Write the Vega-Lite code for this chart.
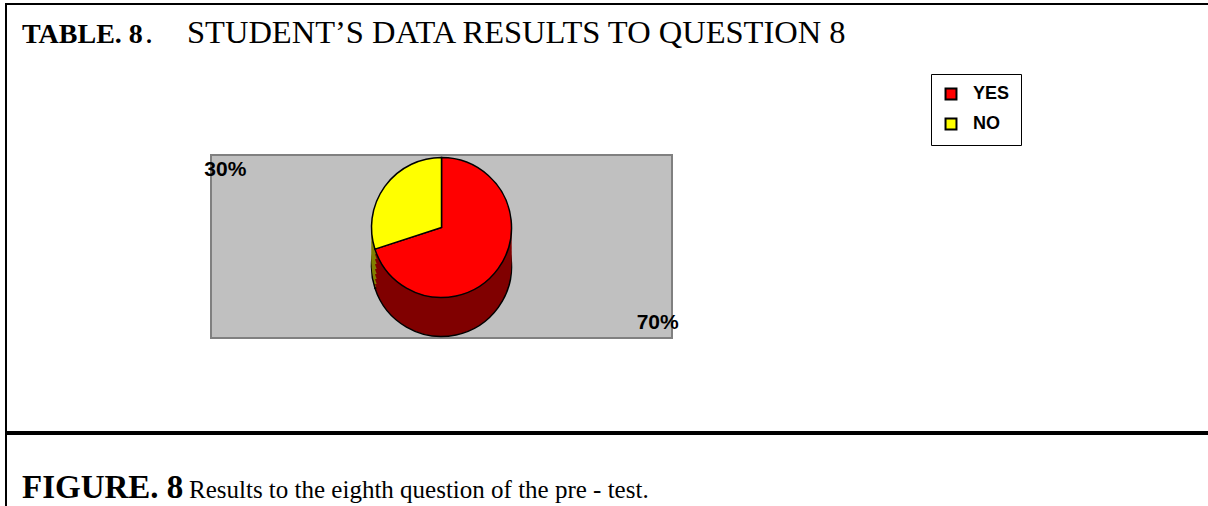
{
  "$schema": "https://vega.github.io/schema/vega-lite/v6.json",
  "background": "white",
  "padding": {"left": 5, "top": 3, "right": 0, "bottom": 0},
  "spacing": 0,
  "bounds": "flush",
  "config": {
    "view": {"stroke": null},
    "title": {"font": "Liberation Serif", "color": "black", "limit": 2000}
  },
  "hconcat": [
    {
      "width": 2, "height": 503,
      "data": {"values": []},
      "mark": "point", "encoding": {},
      "view": {"fill": "black", "stroke": null}
    },
    {
      "spacing": 0,
      "bounds": "flush",
      "vconcat": [
        {
          "spacing": 0,
          "bounds": "flush",
          "hconcat": [
            {
              "width": 138, "height": 2,
              "data": {"values": []},
              "mark": "point", "encoding": {},
              "view": {"fill": "black", "stroke": null},
              "title": {"text": "TABLE. 8", "orient": "bottom", "anchor": "start", "frame": "group", "baseline": "alphabetic", "offset": 38, "dx": 15, "fontWeight": "bold", "fontSize": 28}
            },
            {
              "width": 36, "height": 2,
              "data": {"values": []},
              "mark": "point", "encoding": {},
              "view": {"fill": "black", "stroke": null},
              "title": {"text": ".", "orient": "bottom", "anchor": "start", "frame": "group", "baseline": "alphabetic", "offset": 38, "dx": 0, "fontWeight": "normal", "fontSize": 32}
            },
            {
              "width": 1027, "height": 2,
              "data": {"values": []},
              "mark": "point", "encoding": {},
              "view": {"fill": "black", "stroke": null},
              "title": {"text": "STUDENT’S DATA RESULTS TO QUESTION 8", "orient": "bottom", "anchor": "start", "frame": "group", "baseline": "alphabetic", "offset": 38, "dx": 6, "fontWeight": "normal", "fontSize": 32.5}
            }
          ]
        },
        {
          "width": 1201, "height": 152,
          "data": {"values": []},
          "mark": "point", "encoding": {}
        },
        {
          "spacing": 0,
          "bounds": "flush",
          "hconcat": [
            {
              "width": 204, "height": 183,
              "data": {"values": []},
              "mark": "point", "encoding": {}
            },
            {
              "width": 461, "height": 183,
              "view": {"fill": "#c0c0c0", "stroke": "#808080", "strokeWidth": 2},
              "data": {"values": [
                {"answer": "YES", "percent": 70, "label": "70%", "rank": 1},
                {"answer": "NO", "percent": 30, "label": "30%", "rank": 2}
              ]},
              "encoding": {
                "theta": {"field": "percent", "type": "quantitative", "stack": true},
                "order": {"field": "rank", "type": "quantitative"}
              },
              "layer": [
                {
                  "mark": {"type": "arc", "outerRadius": 70, "yOffset": 20, "stroke": "black", "strokeWidth": 1.5},
                  "encoding": {"fill": {"condition": {"test": "datum.answer === 'YES'", "value": "#800000"}, "value": "#808000"}}
                },
                {
                  "mark": {"type": "arc", "outerRadius": 70, "yOffset": 16},
                  "encoding": {"fill": {"condition": {"test": "datum.answer === 'YES'", "value": "#800000"}, "value": "#808000"}}
                },
                {
                  "mark": {"type": "arc", "outerRadius": 70, "yOffset": 11},
                  "encoding": {"fill": {"condition": {"test": "datum.answer === 'YES'", "value": "#800000"}, "value": "#808000"}}
                },
                {
                  "mark": {"type": "arc", "outerRadius": 70, "yOffset": 6},
                  "encoding": {"fill": {"condition": {"test": "datum.answer === 'YES'", "value": "#800000"}, "value": "#808000"}}
                },
                {
                  "mark": {"type": "arc", "outerRadius": 70, "yOffset": 1},
                  "encoding": {"fill": {"condition": {"test": "datum.answer === 'YES'", "value": "#800000"}, "value": "#808000"}}
                },
                {
                  "mark": {"type": "arc", "outerRadius": 70, "yOffset": -4},
                  "encoding": {"fill": {"condition": {"test": "datum.answer === 'YES'", "value": "#800000"}, "value": "#808000"}}
                },
                {
                  "mark": {"type": "arc", "outerRadius": 70, "yOffset": -9},
                  "encoding": {"fill": {"condition": {"test": "datum.answer === 'YES'", "value": "#800000"}, "value": "#808000"}}
                },
                {
                  "mark": {"type": "arc", "outerRadius": 70, "yOffset": -14},
                  "encoding": {"fill": {"condition": {"test": "datum.answer === 'YES'", "value": "#800000"}, "value": "#808000"}}
                },
                {
                  "mark": {"type": "arc", "outerRadius": 70, "yOffset": -19, "stroke": "black", "strokeWidth": 1.5},
                  "encoding": {
                    "color": {
                      "field": "answer", "type": "nominal",
                      "scale": {"domain": ["YES", "NO"], "range": ["#ff0000", "#ffff00"]},
                      "legend": {
                        "orient": "none", "legendX": 926, "legendY": 71,
                        "title": null,
                        "symbolType": "square", "symbolSize": 120,
                        "symbolStrokeColor": "black", "symbolStrokeWidth": 2,
                        "labelFont": "Liberation Sans", "labelFontSize": 18, "labelFontWeight": "bold", "labelColor": "black",
                        "labelOffset": 13, "rowPadding": 10, "padding": 11,
                        "strokeColor": "black", "fillColor": "white"
                      }
                    }
                  }
                },
                {
                  "mark": {"type": "text", "radius": 130, "dx": 111, "font": "Liberation Sans", "fontSize": 21, "fontWeight": "bold", "color": "black", "align": "center", "baseline": "middle"},
                  "encoding": {"text": {"condition": {"test": "datum.answer === 'YES'", "field": "label"}, "value": ""}}
                },
                {
                  "mark": {"type": "text", "radius": 130, "dx": -111, "font": "Liberation Sans", "fontSize": 21, "fontWeight": "bold", "color": "black", "align": "center", "baseline": "middle"},
                  "encoding": {"text": {"condition": {"test": "datum.answer === 'NO'", "field": "label"}, "value": ""}}
                }
              ]
            }
          ]
        },
        {
          "width": 1201, "height": 276,
          "data": {"values": []},
          "mark": "point", "encoding": {}
        },
        {
          "spacing": 0,
          "bounds": "flush",
          "hconcat": [
            {
              "width": 175, "height": 4,
              "data": {"values": []},
              "mark": "point", "encoding": {},
              "view": {"fill": "black", "stroke": null},
              "title": {"text": "FIGURE. 8", "orient": "bottom", "anchor": "start", "frame": "group", "baseline": "alphabetic", "offset": 63, "dx": 15, "fontWeight": "bold", "fontSize": 33}
            },
            {
              "width": 1026, "height": 4,
              "data": {"values": []},
              "mark": "point", "encoding": {},
              "view": {"fill": "black", "stroke": null},
              "title": {"text": "Results to the eighth question of the pre - test.", "orient": "bottom", "anchor": "start", "frame": "group", "baseline": "alphabetic", "offset": 63, "dx": 7, "fontWeight": "normal", "fontSize": 25}
            }
          ]
        }
      ]
    }
  ]
}
